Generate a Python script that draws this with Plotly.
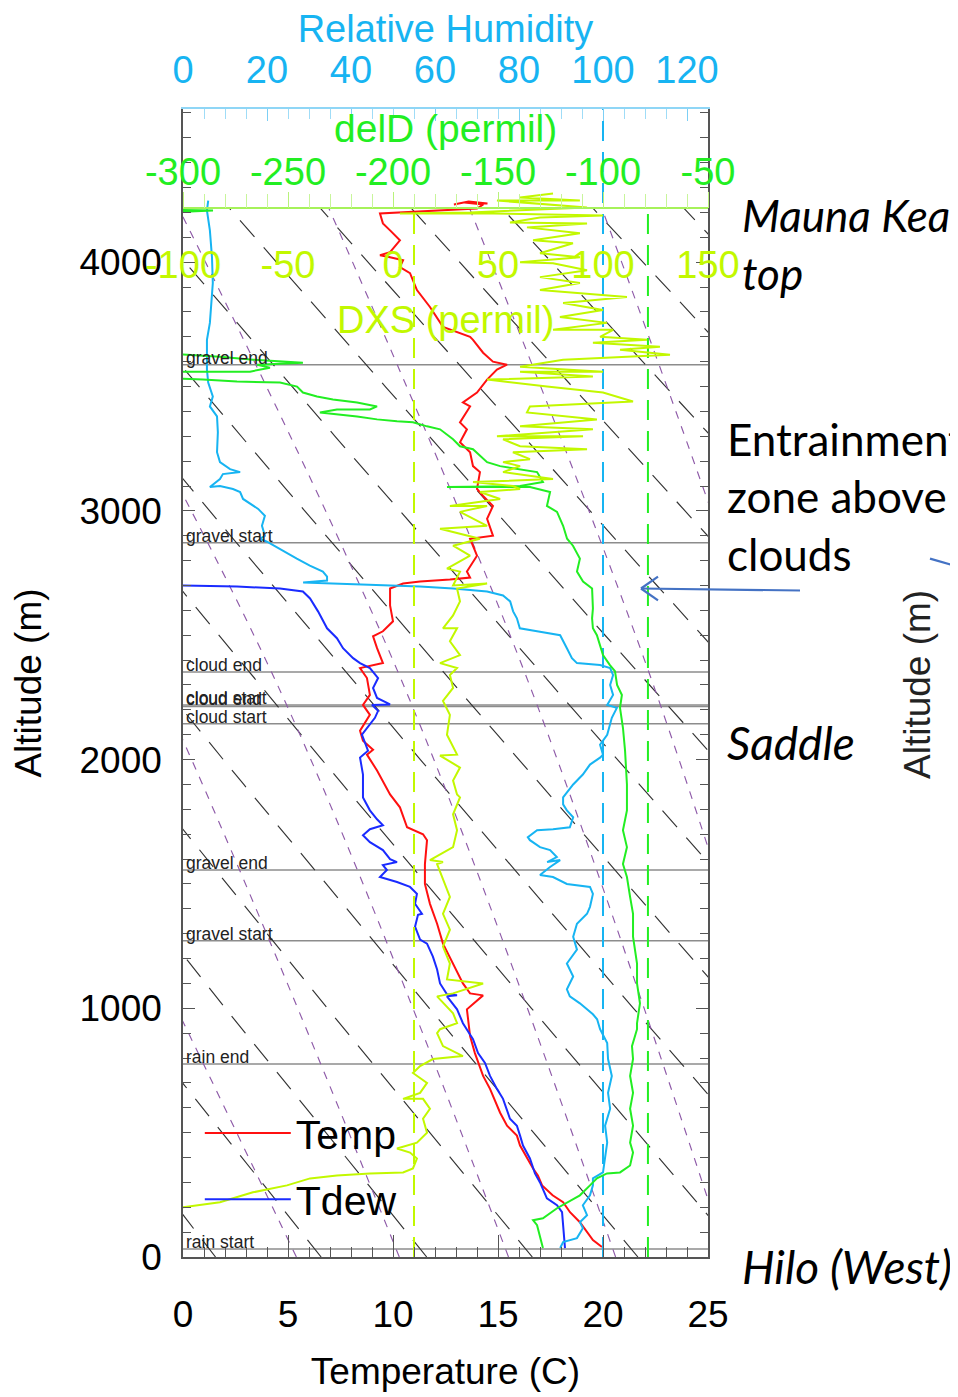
import numpy as np
import plotly.graph_objects as go

# ---------------- data ----------------
# Temperature (C) vs altitude (m)
temp_alt = [40, 68, 140, 180, 220, 248, 288, 328, 356, 448, 488, 528, 580, 628, 676, 728, 820, 888, 996,
            1052, 1060, 1100, 1180, 1260, 1340, 1420, 1500, 1580, 1676, 1700, 1728, 1808, 1860, 1956, 2020,
            2040, 2076, 2116, 2180, 2220, 2260, 2328, 2368, 2388, 2448, 2496, 2516, 2556, 2620, 2688, 2708,
            2716, 2724, 2732, 2756, 2820, 2888, 2900, 2968, 3020, 3060, 3088, 3156, 3180, 3236, 3276, 3328,
            3356, 3420, 3436, 3476, 3528, 3568, 3588, 3600, 3636, 3688, 3700, 3740, 3820, 3888, 3956, 3980,
            4008, 4020, 4028, 4040, 4088, 4128, 4156, 4196, 4204, 4212, 4216, 4232, 4240, 4236, 4244, 4232]
temp_c = [19.95, 19.52, 18.9, 18.43, 18.1, 17.6, 17.1, 16.9, 16.67, 16.05, 15.9, 15.43, 15.1, 14.86, 14.62,
          14.29, 13.9, 13.67, 13.52, 14.29, 13.67, 13.33, 12.86, 12.38, 12.1, 11.76, 11.52, 11.52, 11.62,
          11.43, 10.67, 10.33, 9.86, 9.24, 8.76, 9.05, 8.57, 8.43, 8.9, 8.57, 8.9, 8.76, 8.43, 9.52, 9.24,
          9.05, 9.52, 10.0, 9.86, 9.86, 10.48, 11.29, 12.71, 13.67, 13.52, 14.0, 13.67, 14.76, 14.48, 14.76,
          14.29, 14.0, 14.14, 13.81, 13.67, 13.19, 13.52, 13.19, 13.67, 13.33, 14.0, 14.48, 14.95, 15.43,
          14.76, 14.29, 13.81, 13.67, 12.38, 11.76, 11.14, 10.81, 10.33, 10.48, 9.86, 9.38, 9.86, 10.33,
          9.86, 9.52, 9.38, 11.0, 12.8, 14.0, 14.3, 13.4, 14.5, 13.6, 12.9]

# Dew point (C) vs altitude (m)
dew_alt = [36, 128, 180, 208, 236, 300, 336, 396, 448, 488, 528, 556, 636, 676, 728, 780, 820, 876, 940, 996,
           1048, 1052, 1056, 1100, 1156, 1208, 1260, 1276, 1328, 1376, 1380, 1420, 1460, 1488, 1508, 1528,
           1556, 1576, 1588, 1600, 1636, 1668, 1696, 1720, 1736, 1760, 1796, 1848, 1940, 2008, 2036, 2100,
           2168, 2196, 2220, 2222, 2248, 2288, 2328, 2368, 2388, 2408, 2448, 2488, 2528, 2596, 2648, 2676,
           2688, 2696, 2700, 2702]
dew_c = [18.19, 18.1, 18.05, 17.81, 17.33, 17.0, 16.76, 16.52, 16.19, 16.05, 15.9, 15.57, 15.24, 14.95, 14.62,
         14.38, 14.05, 13.81, 13.33, 13.05, 12.57, 13.05, 12.57, 12.24, 12.1, 11.9, 11.62, 11.29, 11.05, 11.19,
         11.38, 11.05, 11.14, 10.81, 10.19, 9.38, 9.71, 9.52, 10.19, 9.86, 9.52, 8.9, 8.57, 8.9, 9.52, 9.24,
         8.9, 8.57, 8.57, 8.43, 8.81, 8.52, 9.14, 9.29, 9.0, 9.86, 9.24, 9.05, 9.29, 8.9, 8.43, 8.1, 7.62,
         7.33, 6.86, 6.43, 6.05, 5.71, 4.62, 2.57, 0.33, -1.6]

# Relative humidity (%) vs altitude (m)
rh_alt = [36, 60, 76, 116, 140, 168, 208, 248, 288, 316, 340, 396, 460, 528, 596, 660, 728, 796, 860, 916,
          956, 976, 1020, 1048, 1076, 1128, 1180, 1236, 1288, 1340, 1380, 1408, 1460, 1488, 1500, 1528, 1536,
          1568, 1596, 1588, 1608, 1636, 1648, 1676, 1688, 1716, 1720, 1728, 1768, 1796, 1820, 1848, 1900,
          1940, 1980, 2008, 2020, 2060, 2100, 2168, 2208, 2220, 2260, 2300, 2340, 2368, 2380, 2388, 2408,
          2448, 2480, 2500, 2516, 2528, 2568, 2596, 2636, 2660, 2676, 2688, 2696, 2704, 2712, 2720, 2736,
          2756, 2780, 2808, 2848, 2876, 2888, 2900, 2940, 2980, 3008, 3048, 3076, 3088, 3100, 3096, 3128,
          3148, 3156, 3168, 3196, 3236, 3316, 3380, 3420, 3460, 3516, 3568, 3688, 3756, 3916, 4020, 4128,
          4208, 4248]
rh_pct = [89.8, 90.5, 93.8, 95.2, 94.5, 96.2, 95.2, 96.9, 97.6, 97.6, 100.0, 100.5, 101.0, 100.5, 101.7,
          101.2, 102.1, 101.2, 101.0, 99.3, 98.6, 97.6, 94.5, 92.1, 91.4, 92.9, 91.4, 93.8, 92.9, 93.8, 96.2,
          96.9, 97.6, 96.9, 91.4, 88.1, 85.0, 87.4, 89.8, 86.7, 89.0, 87.4, 85.0, 82.6, 82.1, 84.3, 88.1,
          92.1, 92.9, 91.4, 90.5, 90.5, 92.9, 95.2, 96.9, 99.3, 100.0, 99.3, 101.0, 102.1, 103.3, 101.0,
          102.4, 101.7, 102.4, 101.7, 99.3, 93.8, 92.6, 91.4, 90.5, 89.8, 84.3, 80.2, 79.5, 78.6, 77.9, 76.2,
          72.4, 64.3, 56.4, 39.8, 28.6, 34.3, 34.3, 33.3, 30.2, 27.1, 23.1, 20.0, 18.3, 19.5, 18.8, 19.5,
          17.9, 14.3, 13.6, 11.9, 8.8, 6.4, 8.8, 9.5, 13.6, 11.2, 8.8, 8.1, 8.3, 8.1, 6.4, 7.1, 6.0, 5.7, 5.7,
          6.4, 7.1, 6.9, 6.4, 5.7, 6.0]

# deltaD (permil) vs altitude (m)
dD_alt = [36, 128, 148, 156, 196, 220, 248, 288, 316, 336, 340, 368, 420, 460, 528, 596, 660, 728, 796, 848,
          916, 940, 1020, 1100, 1180, 1288, 1380, 1448, 1528, 1580, 1648, 1716, 1796, 1900, 2036, 2128, 2208,
          2260, 2300, 2356, 2380, 2420, 2460, 2500, 2528, 2568, 2608, 2688, 2716, 2756, 2808, 2860, 2888,
          2940, 2996, 3020, 3076, 3096, 3096, 3100, 3116, 3156, 3180, 3196, 3248, 3260, 3288, 3328, 3340,
          3356, 3360, 3368, 3380, 3388, 3396, 3408, 3408, 3420, 3436, 3448, 3460, 3476, 3500, 3516, 3520,
          3528, 3536, 3560, 3560, 3576, 3588, 3596, 3608, 3620, 3636, 3900, 4200, 4204, 4208, 4212]
dD_permil = [-128.6, -131.4, -133.3, -128.6, -121.9, -117.1, -111.0, -106.2, -102.9, -98.1, -91.9, -87.1,
             -85.7, -87.1, -85.7, -87.1, -85.7, -87.1, -85.7, -86.2, -83.8, -83.8, -82.4, -83.8, -83.8, -85.7,
             -85.7, -87.1, -88.6, -90.5, -88.6, -90.5, -88.6, -88.6, -89.5, -90.5, -91.9, -91.0, -93.3, -94.3,
             -96.7, -100.0, -101.4, -102.9, -104.8, -105.2, -104.8, -105.2, -109.5, -112.4, -111.0, -114.3,
             -117.1, -119.0, -121.9, -126.7, -125.2, -134.8, -174.3, -139.5, -128.6, -131.4, -149.0, -155.2,
             -161.9, -168.1, -171.4, -177.6, -183.8, -190.5, -198.1, -207.6, -217.1, -226.7, -234.8, -226.7,
             -211.0, -207.6, -217.1, -228.6, -236.2, -242.9, -245.7, -253.8, -274.3, -290.5, -315.7, -315.7,
             -268.1, -258.6, -264.8, -242.9, -266.7, -282.4, -315.7, -330.0, -315.7, -296.7, -285.7, -315.7]

# Deuterium excess (permil) vs altitude (m)
dxs_alt = [8, 120, 190, 200, 220, 260, 288, 316, 328, 336, 340, 356, 396, 420, 436, 460, 500, 556, 596, 636,
           636, 660, 700, 740, 768, 796, 808, 848, 900, 916, 940, 980, 1048, 1060, 1100, 1116, 1180, 1248,
           1316, 1380, 1448, 1516, 1580, 1588, 1596, 1648, 1716, 1780, 1848, 1860, 1916, 1968, 2016, 2020,
           2100, 2180, 2236, 2288, 2340, 2368, 2388, 2420, 2476, 2528, 2528, 2580, 2636, 2688, 2708, 2700,
           2756, 2768, 2820, 2860, 2888, 2928, 2940, 2996, 3020, 3020, 3048, 3076, 3088, 3100, 3116, 3128,
           3156, 3180, 3196, 3208, 3236, 3248, 3260, 3288, 3300, 3300, 3328, 3340, 3368, 3396, 3420, 3440,
           3476, 3500, 3528, 3540, 3560, 3560, 3580, 3608, 3628, 3648, 3660, 3676, 3688, 3700, 3728, 3728,
           3756, 3780, 3808, 3836, 3860, 3888, 3916, 3940, 3968, 3996, 4000, 4020, 4036, 4076, 4088, 4116,
           4140, 4156, 4160, 4180, 4188, 4196, 4196, 4200, 4220, 4248, 4248, 4260, 4276]
dxs_permil = [-125, -118, -105, -100.0, -82.4, -66.7, -50.5, -39.5, -26.7, -11.0, 4.8, 9.5, 11.4, 8.1, 1.9,
              11.4, 16.2, 14.3, 17.6, 14.3, 4.8, 12.9, 16.2, 9.5, 12.9, 19.0, 33.3, 23.8, 21.0, 22.4, 30.5,
              28.6, 21.0, 28.6, 42.9, 25.7, 27.1, 23.8, 27.1, 23.8, 27.1, 23.8, 21.0, 23.8, 17.6, 28.6, 30.5,
              28.6, 31.9, 30.5, 28.6, 31.9, 22.4, 30.5, 25.7, 27.1, 23.8, 28.6, 27.1, 30.5, 22.4, 31.9, 27.1,
              30.5, 23.8, 28.6, 31.9, 30.5, 44.8, 28.6, 31.9, 25.7, 36.7, 28.6, 41.4, 22.4, 44.8, 31.9, 44.8,
              27.1, 51.0, 41.4, 60.5, 57.1, 38.1, 76.2, 52.4, 60.5, 52.4, 65.2, 57.1, 92.4, 60.5, 52.4, 90.5,
              49.5, 95.2, 60.5, 97.1, 63.8, 65.2, 114.3, 100.0, 73.3, 44.8, 95.2, 60.5, 100.0, 60.5, 81.0,
              131.9, 108.1, 127.1, 95.2, 121.0, 98.6, 104.8, 76.2, 101.9, 79.5, 100.0, 81.0, 111.4, 70.0, 89.0,
              70.0, 92.4, 76.2, 60.5, 89.0, 70.0, 85.7, 66.7, 89.0, 63.8, 92.4, 55.7, 70.0, 100.0, 47.6, 3.3,
              36.7, 92.4, 49.5, 89.0, 60.5, 76.2]

# flight events (altitude m, label)
event_alt = [3588, 2872, 2352, 2220, 2214, 2144, 1556, 1272, 776, 32]
event_label = ["gravel end", "gravel start", "cloud end", "cloud start", "cloud end", "cloud start",
               "gravel end", "gravel start", "rain end", "rain start"]

# reference values
RH_SAT = 100
DXS_REF = 10
DD_REF = -78.6

# background adiabats (drawn up to the isotope axis altitude)
BG_TOP_ALT = 4216
dry_theta_C = [0, 5, 10, 15, 20, 25, 30, 35, 40, 45, 50, 55, 60, 65, 70, 75]
moist_alt = [0, 2300, BG_TOP_ALT]
moist_T_bottom = [5.4, 10.3, 15.5, 20.6, 25.9, 31.1, 36.3]
moist_T_mid = [-8.0, -1.2, 4.5, 10.5, 16.5, 22.4, 28.0]
moist_T_top = [-20.5, -12.7, -7.4, -0.2, 6.95, 13.65, 19.95]

# axes
T_RANGE = [0, 25]
RH_RANGE = [0, 125]
DD_RANGE = [-300, -50]
DXS_RANGE = [-100, 150]
ALT_RANGE = [0, 4616]
t_ticks = [0, 5, 10, 15, 20, 25]
rh_ticks = [0, 20, 40, 60, 80, 100, 120]
dD_ticks = [-300, -250, -200, -150, -100, -50]
dxs_ticks = [-100, -50, 0, 50, 100, 150]
alt_ticks = [0, 1000, 2000, 3000, 4000]

# ---------------- styling ----------------
FONT = "Liberation Sans, Arial, sans-serif"
NOTE_FONT = "Lato, Open Sans, sans-serif"
C_T = "#FF1010"
C_TD = "#1A2BFF"
C_RH = "#17B4F2"
C_DD = "#22EE22"
C_DXS = "#C2F800"
C_ARROW = "#4472C4"
AX = "#555555"

PAGE_OFF = 8          # default body margin of the html page
PLOT_TOP_PX = 108     # plot area position on the page
PLOT_H_PX = 1154
PLOT_L_PX = 183
PLOT_W_PX = 525
FIG_W, FIG_H = 958, 1397 - PAGE_OFF


def py(pix):  # page pixel row -> paper y
    return (PLOT_TOP_PX + PLOT_H_PX - pix) / PLOT_H_PX


def px(pix):  # page pixel column -> paper x
    return (pix - PLOT_L_PX) / PLOT_W_PX


fig = go.Figure()

# dry adiabats (black dashed)
alt_grid = np.append(np.arange(0, BG_TOP_ALT, 100), BG_TOP_ALT)
p_hpa = 1020.0 * (1 - 2.25577e-5 * alt_grid) ** 5.25588
for th in dry_theta_C:
    t_line = (th + 273.15) * (p_hpa / 1000.0) ** 0.2857 - 273.15
    fig.add_trace(go.Scatter(x=t_line, y=alt_grid, mode="lines", xaxis="x", yaxis="y",
                             line=dict(color="#333333", width=1.15, dash="22px,14px"),
                             showlegend=False, hoverinfo="skip"))
# moist adiabats (purple dashed)
for a, b, c in zip(moist_T_bottom, moist_T_mid, moist_T_top):
    fig.add_trace(go.Scatter(x=[a, b, c], y=moist_alt, mode="lines", xaxis="x", yaxis="y",
                             line=dict(color="#8E5AA8", width=1.15, dash="8px,8px", shape="spline"),
                             showlegend=False, hoverinfo="skip"))

fig.add_trace(go.Scatter(x=temp_c, y=temp_alt, mode="lines", name="Temp", legendgroup="a",
                         line=dict(color=C_T, width=2), xaxis="x", yaxis="y"))
fig.add_trace(go.Scatter(x=dew_c, y=dew_alt, mode="lines", name="Tdew", legendgroup="b",
                         line=dict(color=C_TD, width=2), xaxis="x", yaxis="y"))

fig.add_trace(go.Scatter(x=[RH_SAT, RH_SAT], y=ALT_RANGE, mode="lines", xaxis="x2", yaxis="y",
                         line=dict(color=C_RH, width=2, dash="20px,11px"), showlegend=False, hoverinfo="skip"))
fig.add_trace(go.Scatter(x=rh_pct, y=rh_alt, mode="lines", xaxis="x2", yaxis="y",
                         line=dict(color=C_RH, width=2), showlegend=False))

fig.add_trace(go.Scatter(x=[DD_REF, DD_REF], y=[0, 4205], mode="lines", xaxis="x3", yaxis="y",
                         line=dict(color=C_DD, width=2, dash="20px,11px"), showlegend=False, hoverinfo="skip"))
fig.add_trace(go.Scatter(x=dD_permil, y=dD_alt, mode="lines", xaxis="x3", yaxis="y",
                         line=dict(color=C_DD, width=2), showlegend=False))

fig.add_trace(go.Scatter(x=[DXS_REF, DXS_REF], y=[0, 4210], mode="lines", xaxis="x4", yaxis="y",
                         line=dict(color=C_DXS, width=2, dash="20px,11px"), showlegend=False, hoverinfo="skip"))
fig.add_trace(go.Scatter(x=dxs_permil, y=dxs_alt, mode="lines", xaxis="x4", yaxis="y",
                         line=dict(color=C_DXS, width=2), showlegend=False))

# event lines + labels
for alt, lab in zip(event_alt, event_label):
    fig.add_shape(type="line", xref="paper", yref="y", x0=0, x1=1, y0=alt, y1=alt,
                  line=dict(color="#8c8c8c", width=1.5), layer="below")
    fig.add_annotation(x=0.03, y=alt, xref="x", yref="y", text=lab, showarrow=False,
                       xanchor="left", yanchor="middle", yshift=7,
                       font=dict(family=FONT, size=17.5, color="#222222"))

annos = []
# isotope axis titles
annos.append(dict(x=0.5, y=py(128), xref="paper", yref="paper", text="delD (permil)", showarrow=False,
                  font=dict(family=FONT, size=39, color=C_DD), xanchor="center", yanchor="middle"))
annos.append(dict(x=0.5, y=py(320), xref="paper", yref="paper", text="DXS (permil)", showarrow=False,
                  font=dict(family=FONT, size=38, color=C_DXS), xanchor="center", yanchor="middle"))
# right side notes (text, left px, centre row px, italic, font size)
for txt, xp, yp, ital, fs in [("Mauna Kea", 740, 215, True, 44), ("top", 740, 273, True, 44),
                              ("Entrainment", 725, 440, False, 44), ("zone above", 725, 497, False, 44),
                              ("clouds", 725, 555, False, 44), ("Saddle", 725, 745, True, 46),
                              ("Hilo (West)", 740, 1272, True, 46)]:
    f = dict(family=NOTE_FONT, size=fs, color="black")
    if ital:
        f["style"] = "italic"
    annos.append(dict(x=px(xp), y=py(yp), xref="paper", yref="paper", text=txt, showarrow=False,
                      xanchor="left", yanchor="middle", font=f))
annos.append(dict(x=px(918), y=py(687), xref="paper", yref="paper", text="Altitude (m)", showarrow=False,
                  textangle=-90, xanchor="center", yanchor="middle",
                  font=dict(family=FONT, size=37, color="#222222")))
for a in annos:
    fig.add_annotation(**a)

# arrow pointing at the entrainment zone (shaft + open head) and a connector line at the right edge
arrow_lines = [((800, 592), (641, 590)), ((641, 590), (658, 578)), ((641, 590), (658, 602)),
               ((930, 560), (975, 573))]
for (x0, y0), (x1, y1) in arrow_lines:
    fig.add_shape(type="line", xref="paper", yref="paper", x0=px(x0), y0=py(y0), x1=px(x1), y1=py(y1),
                  line=dict(color=C_ARROW, width=2.2))

tick_font = dict(family=FONT, size=37, color="black")
fig.update_layout(
    width=FIG_W, height=FIG_H,
    margin=dict(l=PLOT_L_PX - PAGE_OFF, r=FIG_W - (PLOT_L_PX - PAGE_OFF) - PLOT_W_PX,
                t=PLOT_TOP_PX - PAGE_OFF, b=FIG_H - (PLOT_TOP_PX - PAGE_OFF) - PLOT_H_PX),
    paper_bgcolor="white", plot_bgcolor="white",
    hovermode=False,
    font=dict(family=FONT),
    legend=dict(x=0.032, y=py(1104), xanchor="left", yanchor="top", itemwidth=86,
                font=dict(family=FONT, size=41, color="black"), bgcolor="rgba(0,0,0,0)",
                traceorder="grouped", tracegroupgap=10),
    xaxis=dict(range=T_RANGE, domain=[0, 1], anchor="y", side="bottom", showline=True, linecolor=AX,
               linewidth=1.5, mirror=False, ticks="inside", ticklen=22, tickwidth=1, tickcolor=AX,
               tickvals=t_ticks, ticktext=[str(v) for v in t_ticks],
               minor=dict(dtick=1, tick0=0, ticklen=10, ticks="inside", tickcolor=AX, showgrid=False),
               tickfont=tick_font, ticklabelstandoff=24, showgrid=False, zeroline=False,
               title=dict(text="Temperature (C)", font=dict(family=FONT, size=37, color="black"), standoff=24)),
    xaxis2=dict(range=RH_RANGE, overlaying="x", anchor="y", side="top", showline=True, linecolor="#8fd6f6",
                linewidth=1.5, ticks="inside", ticklen=12, tickcolor="#7ccff5",
                tickvals=rh_ticks, ticktext=[str(v) for v in rh_ticks],
                minor=dict(dtick=5, tick0=0, ticklen=10, ticks="inside", tickcolor="#9fdcf7", showgrid=False),
                tickfont=dict(family=FONT, size=38, color=C_RH), ticklabelstandoff=9,
                showgrid=False, zeroline=False,
                title=dict(text="Relative Humidity", font=dict(family=FONT, size=38, color=C_RH), standoff=2)),
    xaxis3=dict(range=DD_RANGE, overlaying="x", anchor="free", position=py(208), side="top", showline=True,
                linecolor="#A6F25A", linewidth=1.5, ticks="outside", ticklen=16, tickcolor="#B8F27A",
                tickvals=dD_ticks, ticktext=[str(v) for v in dD_ticks],
                minor=dict(dtick=10, tick0=-300, ticklen=14, ticks="outside", tickcolor="#C8F59A", showgrid=False),
                tickfont=dict(family=FONT, size=38, color=C_DD), ticklabelstandoff=-8,
                showgrid=False, zeroline=False),
    xaxis4=dict(range=DXS_RANGE, overlaying="x", anchor="free", position=py(208), side="bottom",
                showline=False, ticks="", tickvals=dxs_ticks, ticktext=[str(v) for v in dxs_ticks],
                tickfont=dict(family=FONT, size=38, color=C_DXS), ticklabelstandoff=31,
                showgrid=False, zeroline=False),
    yaxis=dict(range=ALT_RANGE, domain=[0, 1], showline=True, linecolor=AX, linewidth=1.5, mirror="ticks",
               ticks="inside", ticklen=12, tickcolor=AX, tickvals=alt_ticks,
               ticktext=[str(v) for v in alt_ticks],
               minor=dict(dtick=100, tick0=0, ticklen=8, ticks="inside", tickcolor=AX, showgrid=False),
               tickfont=tick_font, ticklabelstandoff=12, showgrid=False, zeroline=False,
               title=dict(text="Altitude (m)", font=dict(family=FONT, size=37, color="black"), standoff=34)),
)

fig.write_html("out.html")
